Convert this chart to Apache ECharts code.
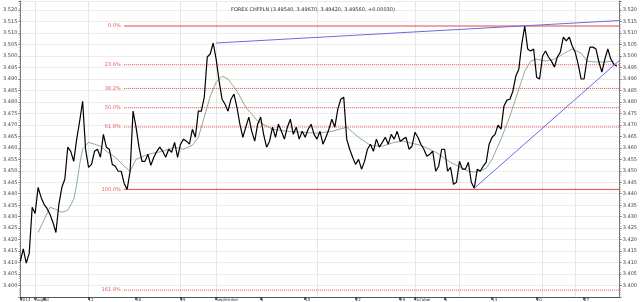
<!DOCTYPE html>
<html>
<head>
<meta charset="utf-8">
<script src="https://cdn.jsdelivr.net/npm/echarts@6/dist/echarts.min.js"></script>
<style>
	html, body { margin: 0; padding: 0; background: #fff; }
	#chart { width: 640px; height: 302px; }
</style>
</head>
<body>
<div id="chart"></div>
<script>
const title = "FOREX CHFPLN (3.49540, 3.49670, 3.49420, 3.49560, +0.00030)";

// close prices, one sample per slot
const prices = [
	3.4105, 3.4160, 3.4098, 3.4140, 3.4341, 3.4314, 3.4428, 3.4384, 3.4354, 3.4336,
	3.4310, 3.4275, 3.4231, 3.4354, 3.4428, 3.4463, 3.4603, 3.4585, 3.4541, 3.4638,
	3.4716, 3.4803, 3.4594, 3.4515, 3.4528, 3.4585, 3.4594, 3.4559, 3.4659, 3.4603,
	3.4594, 3.4528, 3.4520, 3.4498, 3.4498, 3.4445, 3.4419, 3.4498, 3.4760, 3.4690,
	3.4603, 3.4541, 3.4541, 3.4572, 3.4524, 3.4559, 3.4585, 3.4603, 3.4585, 3.4559,
	3.4594, 3.4581, 3.4624, 3.4559, 3.4616, 3.4638, 3.4629, 3.4616, 3.4681, 3.4646,
	3.4760, 3.4760, 3.4821, 3.4996, 3.5009, 3.5057, 3.4987, 3.4891, 3.4812, 3.4790,
	3.4760, 3.4812, 3.4834, 3.4777, 3.4703, 3.4646, 3.4690, 3.4734, 3.4672, 3.4629,
	3.4703, 3.4734, 3.4659, 3.4603, 3.4629, 3.4690, 3.4646, 3.4703, 3.4672, 3.4638,
	3.4690, 3.4725, 3.4659, 3.4690, 3.4638, 3.4672, 3.4646, 3.4681, 3.4703, 3.4659,
	3.4638, 3.4672, 3.4616, 3.4646, 3.4681, 3.4725, 3.4690, 3.4769, 3.4812, 3.4821,
	3.4638, 3.4594, 3.4559, 3.4528, 3.4550, 3.4507, 3.4541, 3.4594, 3.4616, 3.4585,
	3.4638, 3.4603, 3.4624, 3.4646, 3.4616, 3.4659, 3.4638, 3.4672, 3.4629, 3.4638,
	3.4646, 3.4594, 3.4607, 3.4668, 3.4646, 3.4616, 3.4594, 3.4563, 3.4572, 3.4585,
	3.4498, 3.4520, 3.4594, 3.4594, 3.4498, 3.4515, 3.4441, 3.4450, 3.4541, 3.4507,
	3.4507, 3.4537, 3.4450, 3.4424, 3.4507, 3.4498, 3.4520, 3.4537, 3.4616, 3.4646,
	3.4659, 3.4699, 3.4681, 3.4782, 3.4808, 3.4812, 3.4847, 3.4913, 3.4943, 3.5052,
	3.5131, 3.5031, 3.5022, 3.5031, 3.4908, 3.4900, 3.5000, 3.5022, 3.4996, 3.4978,
	3.4952, 3.4996, 3.5017, 3.5083, 3.5066, 3.5083, 3.5044, 3.5017, 3.4965, 3.4900,
	3.4900, 3.4987, 3.5039, 3.5039, 3.5031, 3.4974, 3.4930, 3.4987, 3.5031, 3.4987,
	3.4965, 3.4956
];

// moving average, [slot, value]
const movingAvg = [
	[6, 3.4231], [10, 3.4341], [12, 3.4332], [14, 3.4319], [16, 3.4328], [18, 3.4376],
	[19, 3.4441], [20, 3.4528], [21, 3.4594], [23, 3.4624], [25, 3.4616], [27, 3.4607],
	[29, 3.4585], [32, 3.4559], [35, 3.4520], [37, 3.4498], [39, 3.4550], [43, 3.4572],
	[48, 3.4585], [52, 3.4603], [55, 3.4594], [58, 3.4611], [60, 3.4646], [62, 3.4734],
	[64, 3.4825], [66, 3.4886], [68, 3.4912], [70, 3.4900], [73, 3.4847], [76, 3.4777],
	[80, 3.4716], [85, 3.4681], [90, 3.4672], [95, 3.4668], [100, 3.4664], [105, 3.4672],
	[110, 3.4690], [114, 3.4646], [118, 3.4611], [122, 3.4607], [126, 3.4624], [129, 3.4629],
	[135, 3.4611], [140, 3.4581], [145, 3.4537], [151, 3.4498], [154, 3.4494], [157, 3.4511],
	[159, 3.4550], [162, 3.4638], [165, 3.4738], [168, 3.4856], [170, 3.4934], [172, 3.4978],
	[174, 3.4987], [177, 3.4978], [180, 3.4987], [183, 3.5009], [186, 3.5031], [189, 3.5013],
	[191, 3.4978], [194, 3.4974], [197, 3.4974], [200, 3.4978]
];

// x-axis labels: [slot, text]
const tickLabels = [
	[0, "2014"], [5, "August"], [8, "4"], [23, "11"], [39, "18"], [54, "25"],
	[66, "September"], [81, "8"], [96, "15"], [113, "22"], [128, "29"],
	[133, "October"], [143, "6"], [159, "13"], [174, "20"], [190, "27"]
];
const gridSlots = [5, 23, 54, 66, 100, 133, 148, 176, 187];

const fibLevels = [
	["0.0%", 3.5131, "solid"], ["23.6%", 3.4962, "dotted"], ["38.2%", 3.4859, "dotted"],
	["50.0%", 3.4775, "dotted"], ["61.8%", 3.4691, "dotted"], ["100.0%", 3.4419, "solid"],
	["161.8%", 3.3980, "dotted"]
];
const fibStart = 35;

const trendLines = [
	[[66, 3.5057], [202, 3.5155]],
	[[153, 3.4424], [202, 3.4982]]
];

const slotCount = 203;
const categories = Array.from({ length: slotCount }, (_, i) => String(i));
const labelMap = Object.fromEntries(tickLabels);

const chart = echarts.init(document.getElementById("chart"));

const yAxisBase = {
	type: "value",
	min: 3.395,
	max: 3.524,
	interval: 0.005,
	axisLine: { show: true, lineStyle: { color: "#777", width: 1 } },
	axisTick: { show: true, length: 2, lineStyle: { color: "#777" } },
	minorTick: { show: true, splitNumber: 5, length: 1, lineStyle: { color: "#999" } },
	axisLabel: {
		fontSize: 5,
		color: "#444",
		fontFamily: "DejaVu Sans",
		margin: 3,
		formatter: v => (v >= 3.3999 && v <= 3.5201 && Math.abs(Math.round(v * 200) - v * 200) < 1e-6 ? v.toFixed(3) : "")
	}
};

const fibColor = "#e64646";
const trendColor = "#6a6ae0";

// fib levels and trend lines as plain two-point line series
const fibSeries = fibLevels.map(([name, value, style]) => ({
	name,
	type: "line",
	data: [[fibStart, value], [slotCount - 1, value]],
	symbol: "none",
	silent: true,
	lineStyle: { color: fibColor, width: 1, type: style },
	z: 2
}));

// text labels for the fib levels, placed left of each line start
const fibLabelSeries = {
	name: "fibLabels",
	type: "scatter",
	data: fibLevels.map(([name, value]) => ({ value: [fibStart, value], name })),
	symbolSize: 1,
	itemStyle: { color: "rgba(0,0,0,0)" },
	silent: true,
	label: {
		show: true,
		position: "left",
		distance: 3,
		formatter: p => p.name,
		fontSize: 5,
		color: "#e03030",
		fontFamily: "DejaVu Sans"
	},
	labelLayout: { hideOverlap: false },
	z: 6
};

const trendSeries = trendLines.map((pts, i) => ({
	name: "trend" + i,
	type: "line",
	data: pts,
	symbol: "none",
	silent: true,
	lineStyle: { color: trendColor, width: 1 },
	z: 5
}));

chart.setOption({
	animation: false,
	title: {
		text: title,
		left: 226,
		top: 2,
		textStyle: { fontSize: 5, fontWeight: "normal", color: "#333", fontFamily: "DejaVu Sans" }
	},
	grid: { left: 14, right: 18, top: 1, bottom: 5, containLabel: false },
	xAxis: {
		type: "category",
		data: categories,
		boundaryGap: false,
		axisLine: { show: true, lineStyle: { color: "#555" } },
		axisTick: { show: true, length: 3, interval: i => i in labelMap, lineStyle: { color: "#333", width: 1.5 } },
		axisLabel: {
			interval: i => i in labelMap,
			formatter: (v, i) => labelMap[i] || "",
			fontSize: 4,
			color: "#333",
			align: "left",
			margin: 1,
			fontFamily: "DejaVu Sans"
		},
		splitLine: { show: true, interval: i => gridSlots.includes(i), lineStyle: { color: "#e6e6e6", width: 1 } }
	},
	yAxis: [
		Object.assign({}, yAxisBase, {
			position: "right",
			splitLine: { show: true, lineStyle: { color: "#ececec", width: 1 } }
		}),
		Object.assign({}, yAxisBase, { position: "left", splitLine: { show: false } })
	],
	series: [
		...fibSeries,
		fibLabelSeries,
		{
			name: "MA",
			type: "line",
			data: movingAvg,
			showSymbol: false,
			connectNulls: true,
			lineStyle: { color: "#6d9a6d", width: 0.8 },
			z: 3
		},
		{
			name: "CHFPLN",
			type: "line",
			data: prices,
			showSymbol: false,
			lineStyle: { color: "#000", width: 1.2 },
			z: 4
		},
		...trendSeries
	]
});
</script>
</body>
</html>
